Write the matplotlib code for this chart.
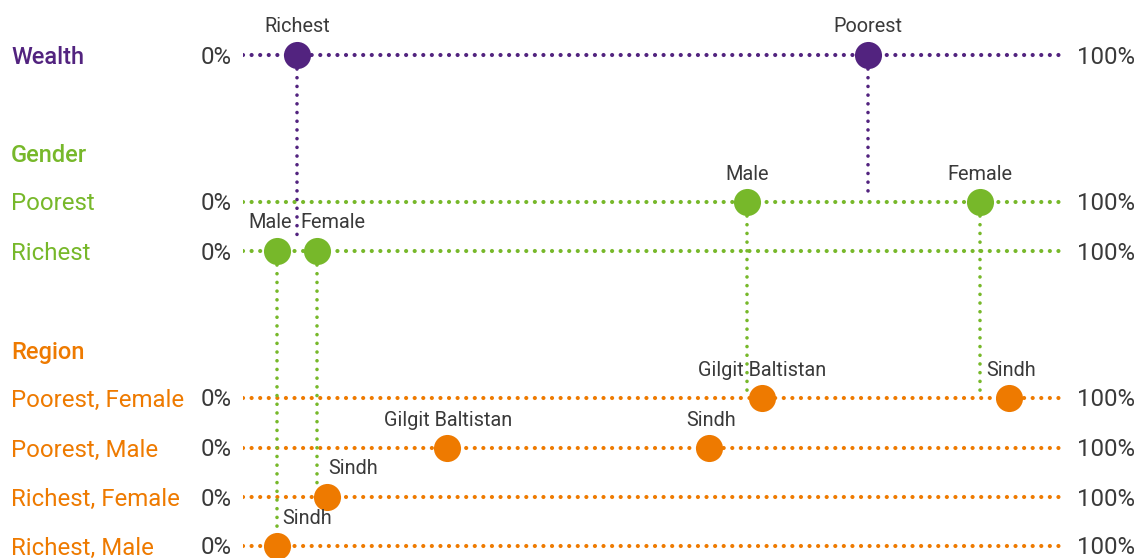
import matplotlib
matplotlib.use("Agg")
import matplotlib.pyplot as plt
from matplotlib.transforms import blended_transform_factory

# ---- data (percent) ----
wealth_labels = ["Richest", "Poorest"]
wealth_values = [6.6, 76.0]

gender_poorest_labels = ["Male", "Female"]
gender_poorest_values = [61.3, 89.7]
gender_richest_labels = ["Male", "Female"]
gender_richest_values = [4.1, 9.0]

region_pf_labels = ["Gilgit Baltistan", "Sindh"]
region_pf_values = [63.1, 93.2]
region_pm_labels = ["Gilgit Baltistan", "Sindh"]
region_pm_values = [24.8, 56.7]
region_rf_labels = ["Sindh"]
region_rf_values = [10.2]
region_rm_labels = ["Sindh"]
region_rm_values = [4.1]

row_names = ["Wealth", "Poorest", "Richest", "Poorest, Female", "Poorest, Male",
             "Richest, Female", "Richest, Male"]
headers = ["Wealth", "Gender", "Region"]

# ---- style / layout ----
PURPLE = "#52237f"
GREEN = "#77b82a"
ORANGE = "#ee7a00"
GREY = "#3a3a3a"
FONT = "Roboto"

W, H = 1138, 558
fig = plt.figure(figsize=(W / 100, H / 100), dpi=100)
ax = fig.add_axes([243 / W, 0, 822 / W, 1])
ax.set_xlim(0, 100)
ax.set_ylim(H, 0)
ax.axis("off")

row_y = [55, 202, 251, 398, 448, 497, 546]
row_col = [PURPLE, GREEN, GREEN, ORANGE, ORANGE, ORANGE, ORANGE]
header_y = {"Wealth": 55, "Gender": 153, "Region": 350}
header_col = {"Wealth": PURPLE, "Gender": GREEN, "Region": ORANGE}

series = [
    (0, wealth_labels, wealth_values, [0, 0]),
    (1, gender_poorest_labels, gender_poorest_values, [0, 0]),
    (2, gender_richest_labels, gender_richest_values, [-7, 16]),
    (3, region_pf_labels, region_pf_values, [0, 2]),
    (4, region_pm_labels, region_pm_values, [1, 2]),
    (5, region_rf_labels, region_rf_values, [26]),
    (6, region_rm_labels, region_rm_values, [30]),
]

# connectors: (x value, from row, to row, colour, gap)
connectors = [
    (wealth_values[0], 0, 2, PURPLE, 8),
    (wealth_values[1], 0, 1, PURPLE, 7),
    (gender_poorest_values[0], 1, 3, GREEN, 3),
    (gender_poorest_values[1], 1, 3, GREEN, 6),
    (gender_richest_values[0], 2, 6, GREEN, 11),
    (gender_richest_values[1], 2, 5, GREEN, 12),
]

dot_h = (0, (0.01, 2.05))
dot_v = (0, (0.01, 2.4))

# horizontal dotted rows
for y, c in zip(row_y, row_col):
    ax.plot([0, 100], [y, y], color=c, lw=3.0, linestyle=dot_h,
            dash_capstyle="round", zorder=1)

# vertical connectors
for xv, r0, r1, c, gap in connectors:
    ax.plot([xv, xv], [row_y[r0] + 14, row_y[r1] - gap], color=c, lw=2.6,
            linestyle=dot_v, dash_capstyle="round", zorder=2)

# markers and labels
for r, labels, vals, dxs in series:
    y = row_y[r]
    c = row_col[r]
    ax.plot(vals, [y] * len(vals), "o", ms=19.5, color=c, mec="none", zorder=3)
    for lab, v, dx in zip(labels, vals, dxs):
        ax.annotate(lab, (v, y), xytext=(dx * 0.72, 28 * 0.72),
                    textcoords="offset points", ha="center", va="center",
                    fontsize=14.3, color=GREY, family=FONT, fontweight="normal")

# left labels and % labels
tr = blended_transform_factory(fig.transFigure, ax.transData)
DY = 2
for name, y, c in zip(row_names, row_y, row_col):
    if name == "Wealth":
        continue
    ax.text(11 / W, y + DY, name, transform=tr, ha="left", va="center",
            fontsize=17.3, color=c, family=FONT, fontweight="normal")
for y in row_y:
    ax.text(232 / W, y + DY, "0%", transform=tr, ha="right", va="center",
            fontsize=17.3, color=GREY, family=FONT, fontweight="normal")
    ax.text(1077 / W, y + DY, "100%", transform=tr, ha="left", va="center",
            fontsize=17.3, color=GREY, family=FONT, fontweight="normal")
for h in headers:
    ax.text(11 / W, header_y[h] + DY, h, transform=tr, ha="left", va="center",
            fontsize=17.0, color=header_col[h], family=FONT, fontweight="medium")

fig.savefig("out.png", dpi=100)
